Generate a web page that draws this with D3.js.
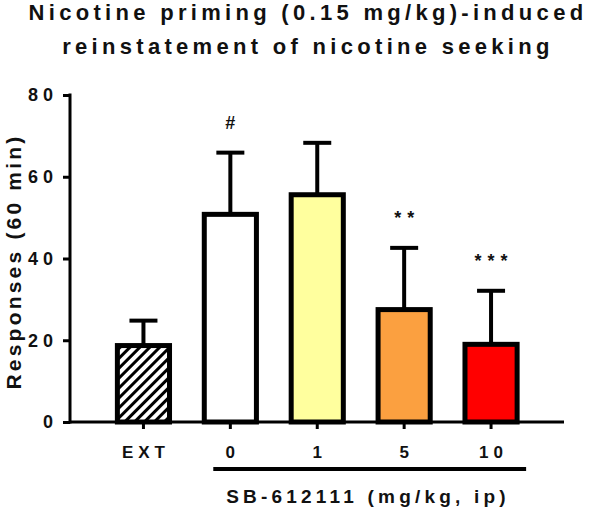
<!DOCTYPE html>
<html>
<head>
<meta charset="utf-8">
<script src="https://cdn.jsdelivr.net/npm/d3@7"></script>
<style>
  body { margin: 0; background: #fff; }
  svg { display: block; font-family: 'Liberation Sans', Arial, sans-serif; font-weight: bold; }
</style>
</head>
<body>
<svg id="chart" width="600" height="509"></svg>
<script>
// data
const categories = ['EXT', '0', '1', '5', '10'];
const means = [18.7, 50.8, 55.6, 27.5, 19.0];
const sems = [6.1, 15.1, 12.7, 15.1, 13.1];
const marks = ['', '#', '', '**', '***'];
const yTicks = [0, 20, 40, 60, 80];
const fills = ['url(#hatch)', '#ffffff', '#ffff9e', '#fba040', '#ff0000'];

const titleLines = ['Nicotine priming (0.15 mg/kg)-induced', 'reinstatement of nicotine seeking'];

// dimensions
const AXIS_X = 70;
const AXIS_END = 564;
const Y_TOP = 95;
const Y_BOTTOM = 422;
const FONT = "'Liberation Sans', Arial, sans-serif";

const $svg = d3.select('#chart');

// hatch pattern for the EXT bar
const defs = $svg.append('defs');
defs.append('pattern')
  .attr('id', 'hatch')
  .attr('patternUnits', 'userSpaceOnUse')
  .attr('width', 7)
  .attr('height', 7)
  .attr('patternTransform', 'rotate(45)')
  .call((p) => {
    p.append('rect').attr('width', 7).attr('height', 7).attr('fill', '#fff');
    p.append('rect').attr('width', 3).attr('height', 7).attr('fill', '#000');
  });

// scales
const scaleX = d3.scaleBand()
  .domain(categories)
  .range([100, 534.5])
  .paddingInner(0.4)
  .paddingOuter(0.2);
const scaleY = d3.scaleLinear().domain([0, 80]).range([Y_BOTTOM, Y_TOP]);

// title
$svg.append('g')
  .attr('class', 'title')
  .selectAll('text')
  .data(titleLines)
  .join('text')
  .attr('x', 306 + 2)
  .attr('y', (d, i) => 20 + i * 34)
  .attr('text-anchor', 'middle')
  .attr('font-size', 22)
  .attr('letter-spacing', 4.3)
  .attr('fill', '#111')
  .text((d) => d);

// y axis
$svg.append('g')
  .attr('class', 'axis-y')
  .attr('transform', `translate(${AXIS_X},0)`)
  .call(d3.axisLeft(scaleY).tickValues(yTicks).tickSize(7).tickPadding(5).tickSizeOuter(0))
  .call((g) => g.select('.domain').attr('stroke', '#000').attr('stroke-width', 3)
    .attr('d', `M0,${Y_BOTTOM + 1.5}V${Y_TOP - 1.5}`))
  .call((g) => g.selectAll('.tick line').attr('stroke', '#000').attr('stroke-width', 3))
  .call((g) => g.selectAll('.tick text')
    .attr('font-size', 18)
    .attr('font-family', FONT)
    .attr('font-weight', 'bold')
    .attr('letter-spacing', 5)
    .attr('fill', '#111'));

$svg.append('text')
  .attr('transform', `translate(21,${(Y_TOP + Y_BOTTOM) / 2 + 3}) rotate(-90)`)
  .attr('text-anchor', 'middle')
  .attr('font-size', 21)
  .attr('letter-spacing', 3.2)
  .attr('fill', '#111')
  .text('Responses (60 min)');

// error bars (drawn first so bars cover the stem)
const $err = $svg.append('g').attr('class', 'errors');
$err.selectAll('line.stem')
  .data(categories)
  .join('line')
  .attr('class', 'stem')
  .attr('x1', (d) => scaleX(d) + scaleX.bandwidth() / 2)
  .attr('x2', (d) => scaleX(d) + scaleX.bandwidth() / 2)
  .attr('y1', (d, i) => scaleY(means[i]))
  .attr('y2', (d, i) => scaleY(means[i] + sems[i]))
  .attr('stroke', '#000')
  .attr('stroke-width', 4);
$err.selectAll('line.cap')
  .data(categories)
  .join('line')
  .attr('class', 'cap')
  .attr('x1', (d) => scaleX(d) + scaleX.bandwidth() / 2 - 14)
  .attr('x2', (d) => scaleX(d) + scaleX.bandwidth() / 2 + 14)
  .attr('y1', (d, i) => scaleY(means[i] + sems[i]))
  .attr('y2', (d, i) => scaleY(means[i] + sems[i]))
  .attr('stroke', '#000')
  .attr('stroke-width', 4);

// bars
$svg.append('g')
  .attr('class', 'bars')
  .selectAll('rect')
  .data(categories)
  .join('rect')
  .attr('x', (d) => scaleX(d))
  .attr('y', (d, i) => scaleY(means[i]))
  .attr('width', scaleX.bandwidth())
  .attr('height', (d, i) => scaleY(0) - scaleY(means[i]))
  .attr('fill', (d, i) => fills[i])
  .attr('stroke', '#000')
  .attr('stroke-width', 5);

// significance marks
$svg.append('g')
  .attr('class', 'marks')
  .selectAll('text')
  .data(categories)
  .join('text')
  .attr('x', (d, i) => scaleX(d) + scaleX.bandwidth() / 2 + (marks[i].length > 1 ? 3 : 0))
  .attr('y', (d, i) => scaleY(means[i] + sems[i]) - 24)
  .attr('text-anchor', 'middle')
  .attr('font-size', 18)
  .attr('letter-spacing', (d, i) => (marks[i].length > 1 ? 6 : 0))
  .attr('fill', '#111')
  .text((d, i) => marks[i]);

// x axis
$svg.append('g')
  .attr('class', 'axis-x')
  .attr('transform', `translate(0,${Y_BOTTOM})`)
  .call(d3.axisBottom(scaleX).tickSize(7).tickPadding(17).tickSizeOuter(0))
  .call((g) => g.select('.domain').attr('stroke', '#000').attr('stroke-width', 3)
    .attr('d', `M${AXIS_X},0H${AXIS_END}`))
  .call((g) => g.selectAll('.tick line').attr('stroke', '#000').attr('stroke-width', 3))
  .call((g) => g.selectAll('.tick text')
    .attr('font-size', 17)
    .attr('font-family', FONT)
    .attr('font-weight', 'bold')
    .attr('letter-spacing', 5)
    .attr('dx', 2.5)
    .attr('fill', '#111'));

// group bracket for SB-612111 doses
$svg.append('line')
  .attr('x1', scaleX('0') + 9)
  .attr('x2', scaleX('10') + scaleX.bandwidth() + 9)
  .attr('y1', 469)
  .attr('y2', 469)
  .attr('stroke', '#000')
  .attr('stroke-width', 4);

$svg.append('text')
  .attr('x', 368)
  .attr('y', 503)
  .attr('text-anchor', 'middle')
  .attr('font-size', 19)
  .attr('letter-spacing', 4.2)
  .attr('fill', '#111')
  .text('SB-612111 (mg/kg, ip)');
</script>
</body>
</html>
